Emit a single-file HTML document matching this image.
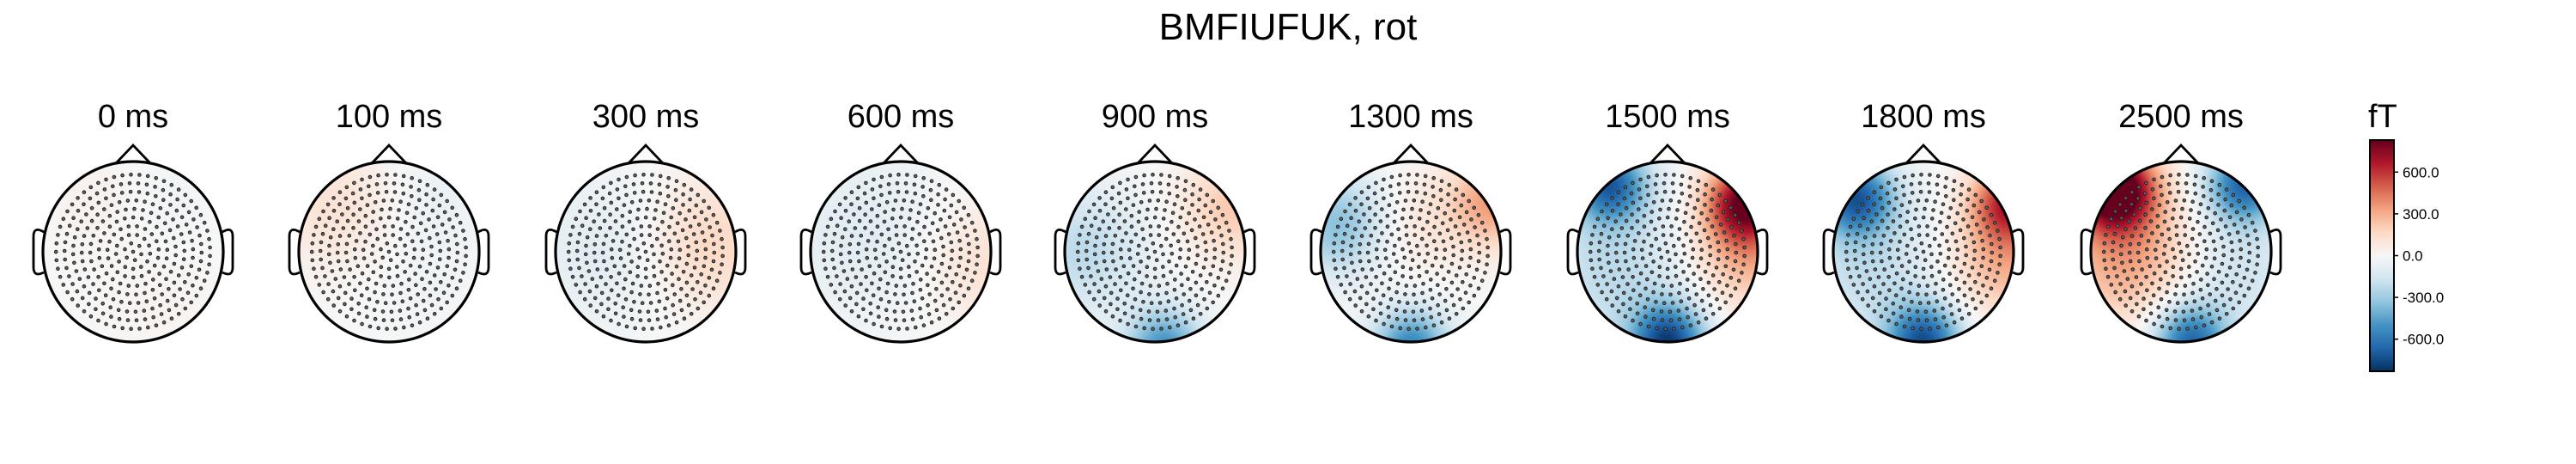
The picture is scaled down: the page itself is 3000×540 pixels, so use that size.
<!DOCTYPE html>
<html><head><meta charset="utf-8"><style>
html,body{margin:0;padding:0;background:#fff;}
#wrap{position:relative;width:3000px;height:540px;overflow:hidden;}
canvas,svg{position:absolute;left:0;top:0;}
text{font-family:"Liberation Sans",sans-serif;fill:#000;}
</style></head><body>
<div id="wrap">
<canvas id="cv" width="3000" height="540"></canvas>
<svg id="sv" width="3000" height="540" xmlns="http://www.w3.org/2000/svg">
<text x="1500" y="46" font-size="44" text-anchor="middle">BMFIUFUK, rot</text>
</svg>
</div>
<script>
// data
const times = ["0 ms","100 ms","300 ms","600 ms","900 ms","1300 ms","1500 ms","1800 ms","2500 ms"];
const blobsX = [
 [-0.4,0.3,0.3],
 [-0.6,0.5,0.3],
 [-0.5,0.7],
 [-0.4,0.9],
 [-0.8,0.85,0.1],
 [-0.8,0.9,0.0,0.0],
 [-0.65,0.85,0.9,0.0,-0.6],
 [-0.75,0.95,0.9,0.0,-0.6],
 [-0.75,-0.6,0.7,0.1,0.6]
];
const blobsY = [
 [-0.6,-0.6,0.6],
 [-0.5,-0.6,0.3],
 [0.0,-0.1],
 [-0.2,0.1],
 [0.0,-0.5,1.05],
 [-0.3,-0.55,-0.3,1.05],
 [-0.75,-0.55,0.0,1.0,0.2],
 [-0.6,-0.55,0.1,1.0,0.2],
 [-0.7,0.0,-0.75,1.0,0.2]
];
const blobsV = [
 [40,-30,25],
 [120,-60,-30],
 [-100,180],
 [-100,130],
 [-220,220,-500],
 [-350,350,100,-550],
 [-650,750,300,-750,-220],
 [-650,600,300,-700,-200],
 [1000,350,-650,-650,-180]
];
const blobsS = [
 [0.4,0.4,0.4],
 [0.5,0.4,0.5],
 [0.6,0.5],
 [0.7,0.5],
 [0.5,0.4,0.3],
 [0.4,0.35,0.4,0.3],
 [0.3,0.3,0.45,0.3,0.6],
 [0.3,0.3,0.45,0.3,0.6],
 [0.3,0.55,0.3,0.3,0.5]
];
const cbTicks = [-600,-300,0,300,600];
const vmax = 830;

const W=3000;
const cxs=[155,453,752,1049,1345,1643,1942,2240,2540];
const cy=293, R=105;
const stops=["#053061","#2166ac","#4393c3","#92c5de","#d1e5f0","#f7f7f7","#fddbc7","#f4a582","#d6604d","#b2182b","#67001f"].map(h=>[parseInt(h.slice(1,3),16),parseInt(h.slice(3,5),16),parseInt(h.slice(5,7),16)]);
function cmap(v){let t=(v/vmax+1)/2;t=Math.max(0,Math.min(1,t))*10;const i=Math.min(9,Math.floor(t)),f=t-i;const a=stops[i],b=stops[i+1];return [a[0]+(b[0]-a[0])*f,a[1]+(b[1]-a[1])*f,a[2]+(b[2]-a[2])*f];}
const cv=document.getElementById('cv'),ctx=cv.getContext('2d');
const img=ctx.createImageData(W,540);
const d=img.data;for(let i=0;i<d.length;i+=4){d[i]=d[i+1]=d[i+2]=255;d[i+3]=255;}
for(let h=0;h<times.length;h++){
 const cx=cxs[h];
 for(let py=cy-R;py<=cy+R;py++)for(let px=cx-R;px<=cx+R;px++){
  const nx=(px-cx)/R,ny=(py-cy)/R;if(nx*nx+ny*ny>1)continue;
  let v=0;for(let k=0;k<blobsV[h].length;k++){const dx=nx-blobsX[h][k],dy=ny-blobsY[h][k],s=blobsS[h][k];v+=blobsV[h][k]*Math.exp(-(dx*dx+dy*dy)/(2*s*s));}
  const c=cmap(v),o=(py*W+px)*4;d[o]=c[0];d[o+1]=c[1];d[o+2]=c[2];
 }
}
// colorbar
const cbX=2760,cbW=28,cbT=163,cbB=432;
for(let py=cbT;py<=cbB;py++){const v=vmax-(py-cbT)/(cbB-cbT)*2*vmax;const c=cmap(v);for(let px=cbX;px<cbX+cbW;px++){const o=(py*W+px)*4;d[o]=c[0];d[o+1]=c[1];d[o+2]=c[2];}}
ctx.putImageData(img,0,0);

const sv=document.getElementById('sv');const NS="http://www.w3.org/2000/svg";
function mk(t,a){const e=document.createElementNS(NS,t);for(const k in a)e.setAttribute(k,a[k]);return e;}
for(let h=0;h<times.length;h++){
 const cx=cxs[h];
 const g=mk('g',{});
 
 
 const lbl=mk('text',{x:cx,y:148,'font-size':'38','text-anchor':'middle'});lbl.textContent=times[h];
 
 
 g.appendChild(lbl);
 const dots=mk('g',{fill:'#666',stroke:'#222','stroke-width':'1'});
 
 
 for(let k=0;k<=9;k++){const r=k*0.095;const n=k===0?1:Math.round(6.28*k);for(let j=0;j<n;j++){const a=j/n*2*Math.PI+k*0.3;dots.appendChild(mk('circle',{cx:(cx+Math.cos(a)*r*R).toFixed(1),cy:(cy+Math.sin(a)*r*R).toFixed(1),r:'1.8'}));}}
 g.appendChild(dots);
 const head=mk('circle',{cx:cx,cy:cy,r:R,fill:'none',stroke:'#000','stroke-width':'3.2'});
 
 
 g.appendChild(head);
 const nose=mk('path',{d:`M${cx-20} ${cy-R+2} L${cx} ${cy-R-19} L${cx+20} ${cy-R+2}`,fill:'none',stroke:'#000','stroke-width':'2.8'});
 
 
 g.appendChild(nose);
 [-1,1].forEach(sd=>{const x0=cx+sd*(R-1),x1=cx+sd*(R+11);
  const ear=mk('path',{d:`M${x0} ${cy-23} Q${x1} ${cy-30} ${x1} ${cy-18} L${x1} ${cy+18} Q${x1} ${cy+30} ${x0} ${cy+24}`,fill:'none',stroke:'#000','stroke-width':'2.8'});
  
  
  g.appendChild(ear);});
 sv.appendChild(g);
}
const cbg=mk('g',{});


const cbr=mk('rect',{x:cbX,y:cbT,width:cbW,height:cbB-cbT,fill:'none',stroke:'#000','stroke-width':'2'});


cbg.appendChild(cbr);
const unit=mk('text',{x:cbX-2,y:148,'font-size':'38'});unit.textContent='fT';


cbg.appendChild(unit);
cbTicks.forEach(t=>{const y=cbT+(vmax-t)/(2*vmax)*(cbB-cbT);
 cbg.appendChild(mk('line',{x1:cbX+cbW,x2:cbX+cbW+5,y1:y,y2:y,stroke:'#000','stroke-width':'1.5'}));
 const tx=mk('text',{x:cbX+cbW+10,y:y+6,'font-size':'17'});tx.textContent=t.toFixed(1);
 
 
 cbg.appendChild(tx);});
sv.appendChild(cbg);
</script>
</body></html>
